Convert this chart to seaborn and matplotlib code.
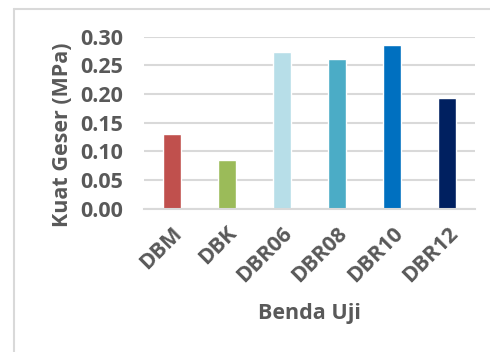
import matplotlib
matplotlib.use("Agg")
import matplotlib.pyplot as plt
from matplotlib.lines import Line2D
import seaborn as sns
import pandas as pd

# Shear strength per specimen
specimens = ["DBM", "DBK", "DBR06", "DBR08", "DBR10", "DBR12"]
shear_mpa = [0.130, 0.085, 0.273, 0.261, 0.285, 0.193]
bar_colors = ["#C0504D", "#9BBB59", "#B7DEE8", "#4BACC6", "#0070C0", "#002060"]
y_ticks = [0.00, 0.05, 0.10, 0.15, 0.20, 0.25, 0.30]

sns.set_theme(style="white")
plt.rcParams["font.family"] = ["Open Sans", "DejaVu Sans"]

text_color = "#595959"
grid_color = "#D9D9D9"
fs = 15.5

df = pd.DataFrame({"Benda Uji": specimens, "Kuat Geser": shear_mpa})

fig = plt.figure(figsize=(4.9, 3.52), dpi=100)
ax = fig.add_axes([0.294, 0.407, 0.675, 0.489])

sns.barplot(data=df, x="Benda Uji", y="Kuat Geser", hue="Benda Uji",
            palette=bar_colors, width=0.33, legend=False, ax=ax,
            saturation=1, zorder=3)

ax.set_ylim(0, 0.30)
ax.set_xlim(-0.5, 5.5)
ax.set_yticks(y_ticks)
ax.set_yticklabels([f"{v:.2f}" for v in y_ticks])
ax.yaxis.grid(True, color=grid_color, linewidth=1.5, zorder=0)
ax.set_axisbelow(True)
for side in ["top", "right", "left"]:
    ax.spines[side].set_visible(False)
ax.spines["bottom"].set_color(grid_color)
ax.spines["bottom"].set_linewidth(1.5)
ax.spines["bottom"].set_zorder(4)

ax.tick_params(axis="both", length=0, colors=text_color, labelsize=fs)
ax.tick_params(axis="y", pad=15)
for lbl in ax.get_yticklabels():
    lbl.set_fontweight("bold")
for lbl in ax.get_xticklabels():
    lbl.set_fontweight("bold")
    lbl.set_rotation(45)
    lbl.set_ha("right")
    lbl.set_rotation_mode("anchor")
ax.tick_params(axis="x", pad=10)

ax.set_xlabel("Benda Uji", fontsize=fs, fontweight="bold", color=text_color, labelpad=12)
ax.set_ylabel("Kuat Geser (MPa)", fontsize=fs, fontweight="bold", color=text_color)
ax.yaxis.set_label_coords(-0.215, 0.43)

# Chart-area frame (top and left edges)
fig.add_artist(Line2D([13.5 / 490, 1.0], [1 - 9 / 352, 1 - 9 / 352],
                      transform=fig.transFigure, color=grid_color, linewidth=1.5))
fig.add_artist(Line2D([13.5 / 490, 13.5 / 490], [0.0, 1 - 9 / 352],
                      transform=fig.transFigure, color=grid_color, linewidth=1.5))

fig.savefig("out.png", dpi=100, facecolor="white")
